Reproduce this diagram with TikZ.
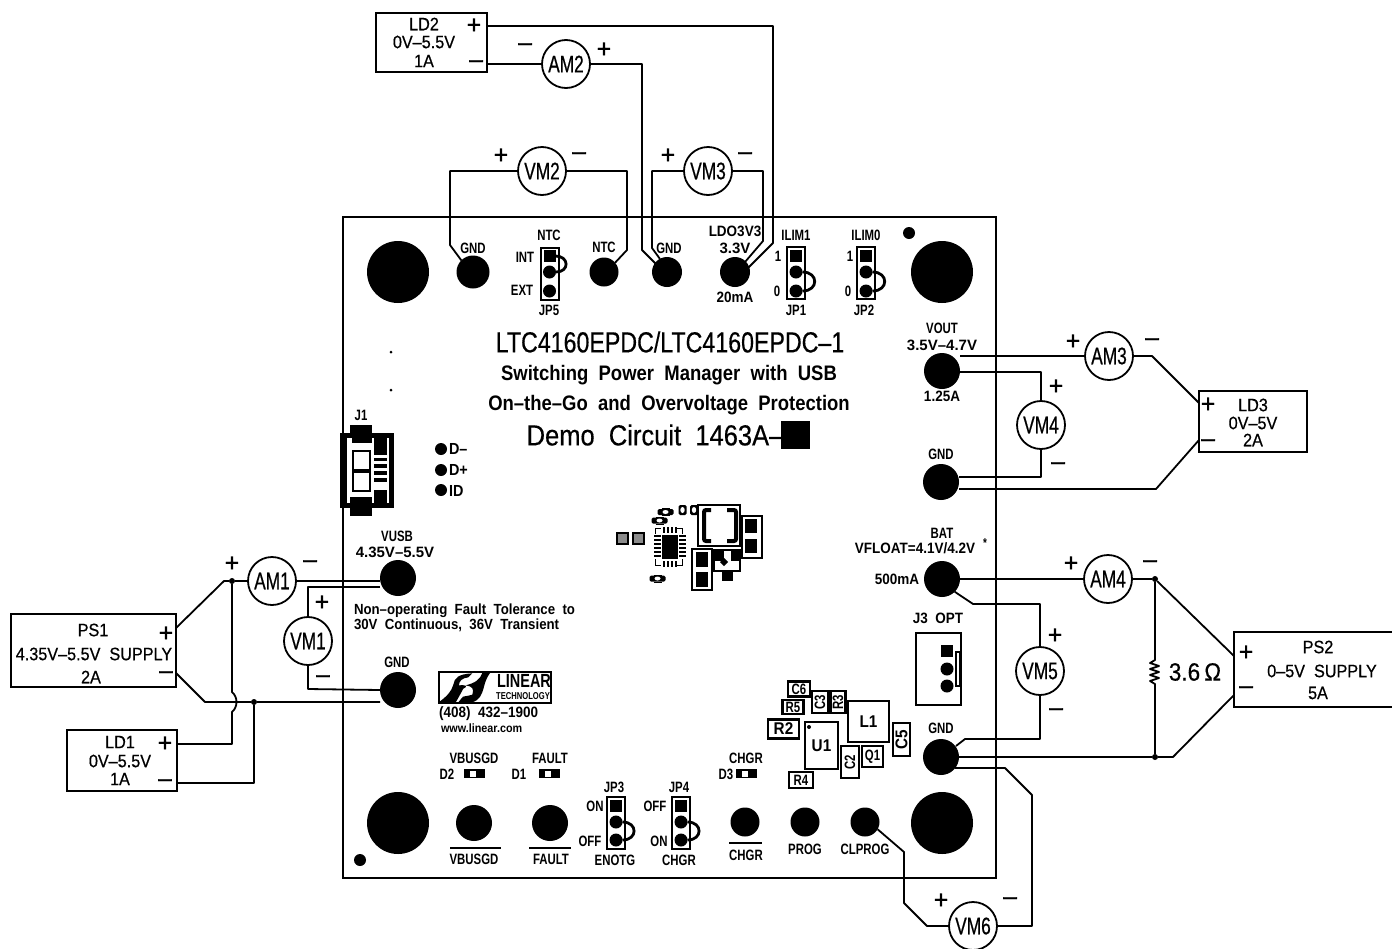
\documentclass[tikz,border=0pt]{standalone}
\usepackage{fontspec}
\setmainfont{Liberation Sans}
\newfontfamily\cadm[FakeStretch=0.90,FakeBold=0.5]{Liberation Sans}
\newfontfamily\cadl[FakeStretch=0.80,FakeBold=0.4]{Liberation Sans}
\newfontfamily\cadd[FakeStretch=0.88,FakeBold=0.4]{Liberation Sans}
\newfontfamily\cads[FakeStretch=0.95,FakeBold=1.0]{Liberation Sans}
\newfontfamily\cadb[FakeStretch=0.76]{Liberation Sans Bold}
\newfontfamily\cadB[FakeStretch=0.90]{Liberation Sans Bold}
\newfontfamily\cadC[FakeStretch=1.00]{Liberation Sans Bold}
\newfontfamily\cadt[FakeStretch=0.88]{Liberation Sans Bold}
\newfontfamily\cadn[FakeStretch=0.72,FakeBold=0.5]{Liberation Sans}
\newcommand{\fs}[1]{\fontsize{#1}{#1}\selectfont}
\tikzset{
  wire/.style={line width=1.8pt,line join=round},
  txs/.style={inner sep=0,outer sep=0,font=\cadb\fs{15}},
  txw/.style={inner sep=0,outer sep=0,font=\cadB\fs{15}},
  txx/.style={inner sep=0,outer sep=0,font=\cadC\fs{15}},
  txm/.style={inner sep=0,outer sep=0,font=\cadm\fs{18}},
  txl/.style={inner sep=0,outer sep=0,font=\cadl\fs{29}},
  txd/.style={inner sep=0,outer sep=0,font=\cadd\fs{29}},
  txt/.style={inner sep=0,outer sep=0,font=\cadt\fs{21}},
  sgn/.style={inner sep=0,outer sep=0,font=\cads\fs{26}},
  mtr/.style={circle,draw,line width=1.8pt,fill=white,minimum size=48,inner sep=0,outer sep=0,font=\cadn\fs{24}},
  pad/.style={circle,fill=black,inner sep=0,outer sep=0,minimum size=#1},
  boxn/.style={rectangle,draw,line width=2.4pt,inner sep=0,outer sep=0,fill=white},
  comp/.style={rectangle,draw,line width=2.4pt,inner sep=0,outer sep=0,font=\cadB\fs{17},fill=white},
  comps/.style={comp,font=\cadb\fs{15}},
  jump/.style={rectangle,draw,line width=2pt,inner sep=0,outer sep=0,minimum width=18,minimum height=52,fill=white},
  jsq/.style={rectangle,fill=black,inner sep=0,outer sep=0,minimum size=12},
  jdot/.style={circle,fill=black,inner sep=0,outer sep=0,minimum size=13},
  jlink/.style={line width=2.8pt,looseness=2.2},
  dotj/.style={circle,fill=black,inner sep=0,outer sep=0,minimum size=6},
  ovl/.style={line width=2.2pt},
  led/.style={rectangle,fill=black,inner sep=0,outer sep=0,minimum width=21,minimum height=9},
  ledk/.style={rectangle,fill=white,inner sep=0,outer sep=0,minimum width=6,minimum height=6},
}
\newcommand{\boneh}[2]{\fill[rounded corners=1.5pt] (#1-8,#2-3) rectangle (#1+8,#2+3);\fill[white] (#1,#2) ellipse (3 and 2);\draw[line width=1pt] (#1-4,#2-3.5) -- (#1+4,#2-3.5) (#1-4,#2+3.5) -- (#1+4,#2+3.5);}
\newcommand{\bonev}[2]{\fill[rounded corners=1.5pt] (#1-4,#2-5) rectangle (#1+4,#2+5);\fill[white] (#1,#2) ellipse (2.2 and 3);}
\begin{document}
\begin{tikzpicture}[x=1pt,y=-1pt]
\useasboundingbox (0,0) rectangle (1392,948);
% board
\node[rectangle,draw,line width=2.8pt,inner sep=0,outer sep=0,minimum width=653,minimum height=661] (board) at (669.5,547.5) {};
% holes and dots
\node[pad=62] (h1) at (398,272) {};
\node[pad=62] (h2) at (942,272) {};
\node[pad=62] (h3) at (398,823) {};
\node[pad=62] (h4) at (942,823) {};
\node[pad=12] (f1) at (909,233) {};
\node[pad=12] (f2) at (360,860) {};
\node[pad=3] (f3) at (391,352) {};
\node[pad=3] (f4) at (391,390) {};
% pads
\node[pad=33] (gnd1) at (473,272) {};
\node[pad=29] (ntc) at (604,272) {};
\node[pad=30] (gnd2) at (667,272) {};
\node[pad=30] (ldo) at (735,272) {};
\node[pad=36] (vout) at (942,371) {};
\node[pad=36] (gnd3) at (941,482) {};
\node[pad=36] (bat) at (942,579) {};
\node[pad=36] (gnd4) at (941,757) {};
\node[pad=36] (vusb) at (398,578) {};
\node[pad=36] (gnd5) at (398,690) {};
\node[pad=36] (vbusgd) at (474,823) {};
\node[pad=36] (fault) at (550,823) {};
\node[pad=29] (chgr) at (745,822) {};
\node[pad=29] (prog) at (805,822) {};
\node[pad=29] (clprog) at (865,822) {};
\node[pad=12] (dm) at (441,449) {};
\node[pad=12] (dp) at (441,470) {};
\node[pad=12] (idp) at (441,490) {};
% source/load boxes
\node[boxn,minimum width=111,minimum height=59] (ld2) at (431.5,42.5) {};
\node[boxn,minimum width=108,minimum height=61] (ld3) at (1253,421.5) {};
\node[boxn,minimum width=165,minimum height=73] (ps1) at (93.5,650.5) {};
\node[boxn,minimum width=110,minimum height=61] (ld1) at (122,760.5) {};
\node[boxn,minimum width=170,minimum height=75] (ps2) at (1319,669.5) {};
% terminals
\coordinate (ld2p) at (487,26);
\coordinate (ld2m) at (487,64);
\coordinate (ld3p) at (1199,403);
\coordinate (ld3m) at (1199,440);
\coordinate (ps1p) at (176,628);
\coordinate (ps1m) at (176,673);
\coordinate (ld1p) at (177,744);
\coordinate (ld1m) at (177,783);
\coordinate (ps2p) at (1234,656);
\coordinate (ps2m) at (1234,695);
\coordinate (ldoA) at (745,262);
\coordinate (ldoB) at (748,268);
\coordinate (gndA) at (657,265);
\coordinate (gndB) at (660,259);
\coordinate (g4a) at (956,746);
\coordinate (g4b) at (955,768);
% meters
\node[mtr] (am1) at (272,581) {AM1};
\node[mtr] (am2) at (566,64) {AM2};
\node[mtr] (am3) at (1109,356) {AM3};
\node[mtr] (am4) at (1108,579) {AM4};
\node[mtr] (vm1) at (308,641) {VM1};
\node[mtr] (vm2) at (542,171) {VM2};
\node[mtr] (vm3) at (708,171) {VM3};
\node[mtr] (vm4) at (1041,425) {VM4};
\node[mtr] (vm5) at (1040,671) {VM5};
\node[mtr] (vm6) at (973,926) {VM6};
% junctions
\node[dotj] (ja) at (232,581) {};
\node[dotj] (jb) at (254,702) {};
\node[dotj] (jc) at (1155,579) {};
\node[dotj] (jd) at (1155,757) {};
% wires
\draw[wire] (ld2p) -- (773,26) -- (773,243) -- (ldoB);
\draw[wire] (ld2m) -- (am2.west);
\draw[wire] (am2.east) -- (642,64) -- (642,250) -- (gndA);
\draw[wire] (vm3.west) -- (652,171) -- (652,248) -- (gndB);
\draw[wire] (vm3.east) -- (763,171) -- (763,241) -- (ldoA);
\draw[wire] (vm2.west) -- (450,171) -- (450,245) -- (gnd1.135);
\draw[wire] (vm2.east) -- (627,171) -- (627,250) -- (ntc.40);
\draw[wire] (vout.east |- am3.west) -- (am3.west);
\draw[wire] (am3.east) -- (1152,356) -- (ld3p);
\draw[wire] (ld3m) -- (1156,489) -- (gnd3.east |- 0,489);
\draw[wire] (vout.east |- 0,372) -- (1041,372) -- (vm4.north);
\draw[wire] (vm4.south) -- (1041,477) -- (gnd3.east |- 0,477);
\draw[wire] (bat.east) -- (am4.west);
\draw[wire] (am4.east) -- (jc);
\draw[wire] (jc) -- (ps2p);
\draw[wire] (jc) -- (1155,660) -- (1150,663) -- (1159,666) -- (1150,669) -- (1159,672) -- (1150,675) -- (1159,678) -- (1150,681) -- (1155,684) -- (jd);
\draw[wire] (gnd4.east) -- (jd) -- (1173,757) -- (ps2m);
\draw[wire] (bat.-45) -- (973,604) -- (1040,604) -- (vm5.north);
\draw[wire] (vm5.south) -- (1040,739) -- (965,739) -- (g4a);
\draw[wire] (g4b) -- (1005,768) -- (1032,795) -- (1032,926) -- (vm6.east);
\draw[wire] (vm6.west) -- (927,926) -- (904,903) -- (904,852) -- (clprog.-30);
\draw[wire] (ps1p) -- (224,581) -- (ja) -- (am1.west);
\draw[wire] (am1.east) -- (vusb.west |- am1.east);
\draw[wire] (vusb.west |- 0,587) -- (308,587) -- (vm1.north);
\draw[wire] (vm1.south) -- (308,689) -- (gnd5.west);
\draw[wire] (ps1m) -- (205,702) -- (jb) -- (gnd5.west |- jb);
\draw[wire] (jb) -- (254,783) -- (ld1m);
\draw[wire] (ja) -- (232,692) .. controls (238,697) and (238,707) .. (232,712) -- (232,744) -- (ld1p);
% signs
\node[sgn] (s1) at (474,26) {+};
\node[sgn] (s2) at (476,64) {–};
\node[sgn] (s3) at (525,47) {–};
\node[sgn] (s4) at (604,50) {+};
\node[sgn] (s5) at (501,156) {+};
\node[sgn] (s6) at (579,156) {–};
\node[sgn] (s7) at (668,156) {+};
\node[sgn] (s8) at (745,156) {–};
\node[sgn] (s9) at (1073,342) {+};
\node[sgn] (s10) at (1152,342) {–};
\node[sgn] (s11) at (1056,387) {+};
\node[sgn] (s12) at (1058,466) {–};
\node[sgn] (s13) at (1208,405) {+};
\node[sgn] (s14) at (1208,443) {–};
\node[sgn] (s15) at (1071,564) {+};
\node[sgn] (s16) at (1150,564) {–};
\node[sgn] (s17) at (1055,636) {+};
\node[sgn] (s18) at (1056,712) {–};
\node[sgn] (s19) at (1246,653) {+};
\node[sgn] (s20) at (1246,690) {–};
\node[sgn] (s21) at (941,901) {+};
\node[sgn] (s22) at (1010,901) {–};
\node[sgn] (s23) at (232,564) {+};
\node[sgn] (s24) at (310,564) {–};
\node[sgn] (s25) at (322,603) {+};
\node[sgn] (s26) at (323,679) {–};
\node[sgn] (s27) at (166,634) {+};
\node[sgn] (s28) at (166,675) {–};
\node[sgn] (s29) at (165,744) {+};
\node[sgn] (s30) at (165,783) {–};
% box text
\node[txm] (t1) at (424,24) {LD2};
\node[txm] (t2) at (424,42) {0V–5.5V};
\node[txm] (t3) at (424,61) {1A};
\node[txm] (t4) at (1253,405) {LD3};
\node[txm] (t5) at (1253,423) {0V–5V};
\node[txm] (t6) at (1253,440) {2A};
\node[txm] (t7) at (93,630) {PS1};
\node[txm] (t8) at (94,654) {4.35V–5.5V\ \ SUPPLY};
\node[txm] (t9) at (91,677) {2A};
\node[txm] (t10) at (120,742) {LD1};
\node[txm] (t11) at (120,761) {0V–5.5V};
\node[txm] (t12) at (120,779) {1A};
\node[txm] (t13) at (1318,647) {PS2};
\node[txm] (t14) at (1322,671) {0–5V\ \ SUPPLY};
\node[txm] (t15) at (1318,693) {5A};
\node[inner sep=0,font=\cadm\fs{25}] (t16) at (1195,672) {3.6\,Ω};
% title
\node[txl] (ti1) at (670,342) {LTC4160EPDC/LTC4160EPDC–1};
\node[txt] (ti2) at (669,375) {Switching\ \ Power\ \ Manager\ \ with\ \ USB};
\node[txt] (ti3) at (669,405) {On–the–Go\ \ and\ \ Overvoltage\ \ Protection};
\node[txd] (ti4) at (655,435) {Demo\ \ Circuit\ \ 1463A–};
\node[rectangle,fill=black,inner sep=0,minimum width=29,minimum height=28] (ti5) at (795.5,435) {};
% top labels
\node[txs] (l1) at (473,248) {GND};
\node[txs] (l2) at (604,247) {NTC};
\node[txs] (l3) at (669,248) {GND};
\node[txw] (l4) at (735,231) {LDO3V3};
\node[txx] (l5) at (735,248) {3.3V};
\node[txw] (l6) at (735,297) {20mA};
% jumpers
\node[jump] (jp5) at (549.5,273.5) {};
\node[jsq] (jp5a) at (549.5,256) {};
\node[jdot] (jp5b) at (549.5,272) {};
\node[jdot] (jp5c) at (549.5,291) {};
\draw[jlink] (jp5a.east) to[out=0,in=0] (jp5b.east);
\node[txs] (l7) at (549,235) {NTC};
\node[txs] (l8) at (525,257) {INT};
\node[txs] (l9) at (522,290) {EXT};
\node[txs] (l10) at (549,310) {JP5};
\node[jump] (jp1) at (796,272.5) {};
\node[jsq] (jp1a) at (796,256) {};
\node[jdot] (jp1b) at (796,272) {};
\node[jdot] (jp1c) at (796,291) {};
\draw[jlink] (jp1b.east) to[out=0,in=0] (jp1c.east);
\node[txs] (l11) at (796,235) {ILIM1};
\node[txs] (l12) at (778,256) {1};
\node[txs] (l13) at (777,291) {0};
\node[txs] (l14) at (796,310) {JP1};
\node[jump] (jp2) at (866,272.5) {};
\node[jsq] (jp2a) at (866,256) {};
\node[jdot] (jp2b) at (866,272) {};
\node[jdot] (jp2c) at (866,291) {};
\draw[jlink] (jp2b.east) to[out=0,in=0] (jp2c.east);
\node[txs] (l15) at (866,235) {ILIM0};
\node[txs] (l16) at (850,256) {1};
\node[txs] (l17) at (848,291) {0};
\node[txs] (l18) at (864,310) {JP2};
\node[jump] (jp3) at (616,823) {};
\node[jsq] (jp3a) at (616,806) {};
\node[jdot] (jp3b) at (616,822) {};
\node[jdot] (jp3c) at (616,840) {};
\draw[jlink] (jp3b.east) to[out=0,in=0] (jp3c.east);
\node[txs] (l19) at (614,787) {JP3};
\node[txs] (l20) at (595,806) {ON};
\node[txs] (l21) at (590,841) {OFF};
\node[txs] (l22) at (615,860) {ENOTG};
\node[jump] (jp4) at (681,823) {};
\node[jsq] (jp4a) at (681,806) {};
\node[jdot] (jp4b) at (681,822) {};
\node[jdot] (jp4c) at (681,840) {};
\draw[jlink] (jp4b.east) to[out=0,in=0] (jp4c.east);
\node[txs] (l23) at (679,787) {JP4};
\node[txs] (l24) at (655,806) {OFF};
\node[txs] (l25) at (659,841) {ON};
\node[txs] (l26) at (679,860) {CHGR};
% right labels
\node[txs] (l27) at (942,328) {VOUT};
\node[txx] (l28) at (942,345) {3.5V–4.7V};
\node[txw] (l29) at (942,396) {1.25A};
\node[txs] (l30) at (941,454) {GND};
\node[txs] (l31) at (942,533) {BAT};
\node[txw] (l32) at (915,548) {VFLOAT=4.1V/4.2V};
\node[txs,font=\cadb\fs{13}] (l33) at (985,543) {*};
\node[txw] (l34) at (897,579) {500mA};
\node[txs] (l35) at (941,728) {GND};
% J3
\node[txs,font=\cadB\fs{15}] (l36) at (938,618) {J3\ \ OPT};
\node[rectangle,draw,line width=2pt,inner sep=0,minimum width=45,minimum height=72] (j3) at (938.5,669) {};
\node[rectangle,draw,line width=1.4pt,inner sep=0,minimum width=4,minimum height=34] (j3n) at (958,669) {};
\node[jsq] (j3a) at (947,651) {};
\node[jdot] (j3b) at (947,669) {};
\node[jdot] (j3c) at (947,686) {};
% left labels
\node[txs] (l37) at (397,536) {VUSB};
\node[txx] (l38) at (395,552) {4.35V–5.5V};
\node[txw,anchor=west,font=\cadB\fs{14.7}] (l39) at (354,611) {Non–operating\ \ Fault\ \ Tolerance\ \ to};
\node[txw,anchor=west,font=\cadB\fs{14.7}] (l40) at (354,625) {30V\ \ Continuous,\ \ 36V\ \ Transient};
\node[txs] (l41) at (397,662) {GND};
\node[txs] (l42) at (361,415) {J1};
\node[txs,anchor=west,font=\cadB\fs{16}] (l43) at (449,449) {D–};
\node[txs,anchor=west,font=\cadB\fs{16}] (l44) at (449,470) {D+};
\node[txs,anchor=west,font=\cadB\fs{16}] (l45) at (449,491) {ID};
% J1 connector
\fill (340,433) rectangle (394,508);
\fill (350,425) rectangle (372,516);
\fill[white] (347,438) rectangle (371,503);
\fill[white] (371,438) rectangle (374,503);
\fill[white] (387,438) rectangle (389,503);
\fill[white] (374,455) rectangle (387,490);
\fill (352,425) rectangle (372,443);
\fill (350,497) rectangle (372,514);
\fill (374,458) rectangle (387,461);
\fill (374,464) rectangle (387,468);
\fill (374,471) rectangle (387,475);
\fill (374,478) rectangle (387,482);
\draw[line width=1.8pt] (353,451) rectangle (370,470);
\draw[line width=1.8pt] (353,472) rectangle (370,491);
% logo
\node[rectangle,draw,line width=2pt,inner sep=0,minimum width=112,minimum height=31] (logo) at (495,687) {};
\begin{scope}[shift={(435,668)},x=0.3333pt,y=-0.3333pt]
  \fill (15,100) .. controls (35,85) and (50,70) .. (55,50) .. controls (58,30) and (70,18) .. (112,16) -- (100,28) .. controls (80,30) and (72,40) .. (72,52) .. controls (95,50) and (100,55) .. (85,62) .. controls (75,80) and (70,90) .. (62,103) -- (15,103) -- cycle;
  \fill (165,15) -- (142,15) .. controls (135,35) and (120,45) .. (92,52) .. controls (112,55) and (118,62) .. (112,80) .. controls (100,84) and (90,84) .. (84,86) .. controls (78,92) and (74,98) .. (70,103) -- (112,103) .. controls (135,95) and (140,80) .. (146,60) .. controls (150,40) and (158,25) .. (165,15) -- cycle;
\end{scope}
\node[inner sep=0,font=\cadb\fs{19}] (lg1) at (524,681) {LINEAR};
\node[inner sep=0,font=\cadb\fs{10}] (lg2) at (523,696) {TECHNOLOGY};
\node[txw,anchor=west] (lg3) at (439,714) {(408)\ \ 432–1900};
\node[txw,anchor=west,font=\cadB\fs{12}] (lg4) at (441,728) {www.linear.com};
% bottom labels
\node[txs] (b1) at (474,758) {VBUSGD};
\node[txs] (b2) at (447,774) {D2};
\node[led] (led2) at (474,773.5) {};
\node[ledk] (led2k) at (473,773.5) {};
\node[txs] (b3) at (550,758) {FAULT};
\node[txs] (b4) at (519,774) {D1};
\node[led] (led1) at (549,773.5) {};
\node[ledk] (led1k) at (548,773.5) {};
\node[txs] (b5) at (746,758) {CHGR};
\node[txs] (b6) at (726,774) {D3};
\node[led] (led3) at (746,773.5) {};
\node[ledk] (led3k) at (745,773.5) {};
\node[txs] (b7) at (474,859) {VBUSGD};
\node[txs] (b8) at (551,859) {FAULT};
\node[txs] (b9) at (746,855) {CHGR};
\node[txs] (b10) at (805,849) {PROG};
\node[txs] (b11) at (865,849) {CLPROG};
\draw[ovl] (450,848) -- (501,848);
\draw[ovl] (529,848) -- (571,848);
\draw[ovl] (729,843) -- (762,843);
% board components, lower right
\node[comps,minimum width=22,minimum height=15] (c6) at (799,689) {C6};
\node[comps,minimum width=21,minimum height=14] (r5) at (793,707) {R5};
\node[comps,minimum width=16,minimum height=22] (c3) at (820,702) {\rotatebox{90}{C3}};
\node[comps,minimum width=15,minimum height=22] (r3) at (838,702) {\rotatebox{90}{R3}};
\node[comp,minimum width=31,minimum height=19] (r2) at (783.5,729) {R2};
\node[comp,minimum width=33,minimum height=47] (u1) at (821.5,745.5) {U1};
\node[pad=4] (u1d) at (809,727) {};
\node[comp,minimum width=41,minimum height=41] (l1) at (868.5,721.5) {L1};
\node[comp,minimum width=17,minimum height=33] (c5) at (901.5,739.5) {\rotatebox{90}{C5}};
\node[comps,minimum width=18,minimum height=32] (c2) at (850,762) {\rotatebox{90}{C2}};
\node[comps,minimum width=21,minimum height=21] (q1) at (872.5,756.5) {Q1};
\node[comps,minimum width=24,minimum height=16] (r4) at (801,780) {R4};
% centre layout
\begin{scope}
  \draw[line width=1.4pt,fill=black!45] (617,533) rectangle (628,544);
  \draw[line width=1.4pt,fill=black!45] (633,533) rectangle (644,544);
  \draw[line width=1pt] (655,528) rectangle (682,565);
  \fill[white] (653,534) rectangle (684,559);
  \fill[white] (661,526) rectangle (677,567);
  \fill (662,535) rectangle (678,559);
  \foreach \yy in {535,539,543,547,551,555} {\fill (654,\yy) rectangle (661,\yy+2);\fill (679,\yy) rectangle (686,\yy+2);}
  \foreach \xx in {663,667,671,675} {\fill (\xx,527) rectangle (\xx+2,533);\fill (\xx,561) rectangle (\xx+2,567);}
  \draw[line width=2.2pt] (698,505) rectangle (740,546);
  \draw[line width=4pt,rounded corners=2pt] (711,510) -- (704,510) -- (704,541) -- (711,541);
  \draw[line width=4pt,rounded corners=2pt] (727,510) -- (736,510) -- (736,541) -- (727,541);
  \draw[line width=2.2pt,fill=white] (742,516) rectangle (762,558);
  \fill (745,519) rectangle (757,533);
  \fill (745,539) rectangle (757,553);
  \draw[line width=2.2pt,fill=white] (692,549) rectangle (712,590);
  \fill (696,552) rectangle (708,567);
  \fill (696,572) rectangle (708,587);
  \draw[line width=1.8pt] (714,550) rectangle (740,571);
  \fill (715,550) rectangle (724,561);
  \fill (731,550) rectangle (740,561);
  \fill (722,571) rectangle (733,581);
  \fill (720,562) -- (724,558) -- (728,562) -- (724,566) -- cycle;
  \boneh{665.5}{512}
  \boneh{659.5}{520.5}
  \boneh{657.5}{578.5}
  \bonev{682.5}{510}
  \bonev{694}{510}
\end{scope}
\end{tikzpicture}
\end{document}
